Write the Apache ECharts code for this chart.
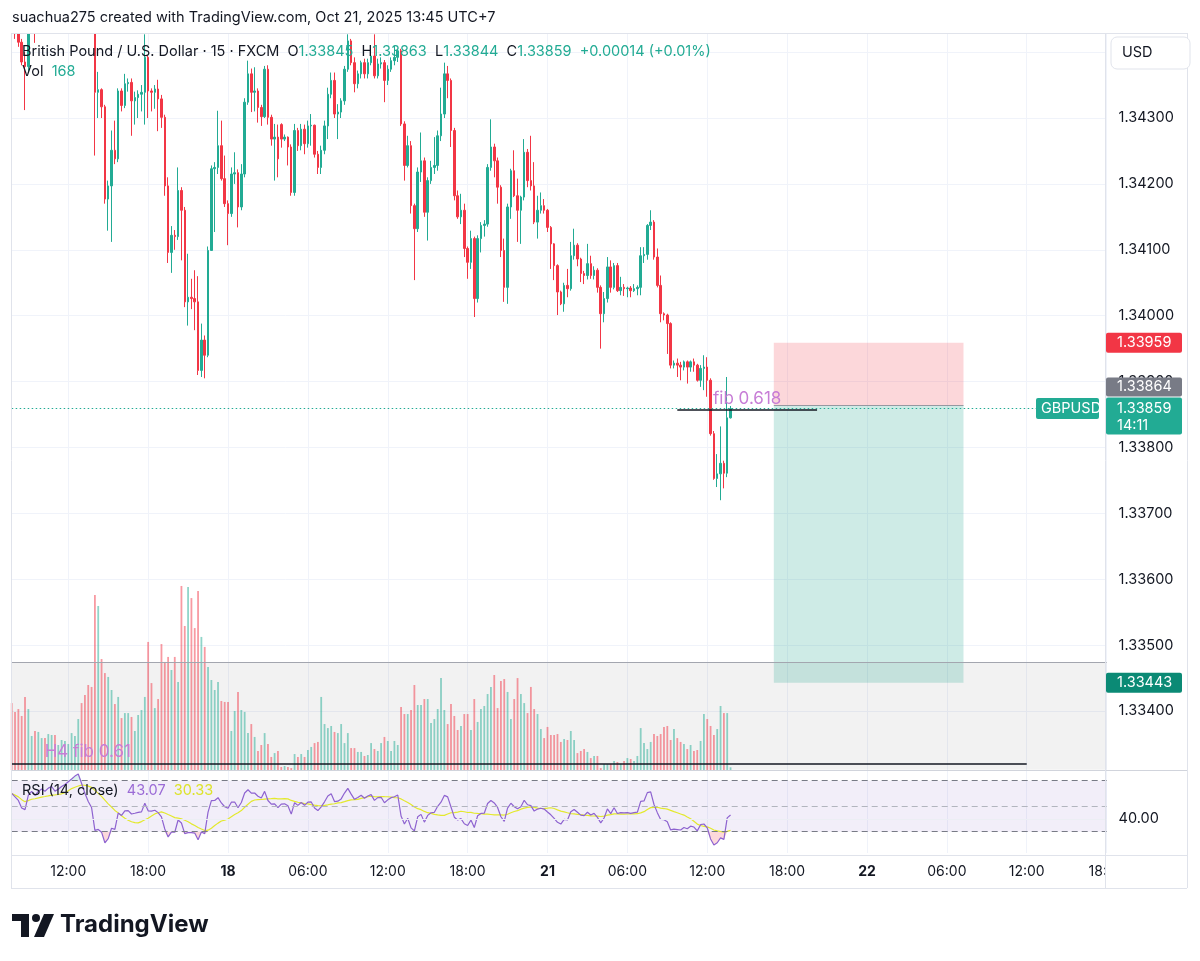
<!DOCTYPE html>
<html>
<head>
<meta charset="utf-8">
<title>GBPUSD 15</title>
<script src="https://cdn.jsdelivr.net/npm/echarts@6/dist/echarts.min.js"></script>
<style>
    html, body { margin: 0; padding: 0; background: #fff; }
    #main { width: 1200px; height: 961px; }
</style>
</head>
<body>
<div id="main"></div>
<script>
    // sessions of 15 min bars (UTC+7): Friday from 07:45 till the weekend close, Monday from 04:00
    var sessions = [['2025-10-17T07:45', 81], ['2025-10-20T04:00', 249]];

    // FX bars open at the previous close, except the first one and the Monday gap
    var firstOpen = 1.34452;
    var gapOpens = {81: 1.34290};

    var closes = [
        1.34440, 1.34428, 1.34415, 1.34385, 1.34378, 1.34445, 1.34468, 1.34452, 1.34475, 1.34490,
        1.34482, 1.34500, 1.34510, 1.34495, 1.34505, 1.34520, 1.34532, 1.34548, 1.34565, 1.34585,
        1.34600, 1.34575, 1.34545, 1.34515, 1.34490, 1.34339, 1.34343, 1.34317, 1.34177, 1.34197,
        1.34251, 1.34238, 1.34341, 1.34319, 1.34352, 1.34354, 1.34326, 1.34331, 1.34336, 1.34339,
        1.34392, 1.34341, 1.34339, 1.34344, 1.34329, 1.34301, 1.34197, 1.34096, 1.34122, 1.34120,
        1.34190, 1.34160, 1.34021, 1.34028, 1.34026, 1.34021, 1.33917, 1.33963, 1.33940, 1.34099,
        1.34223, 1.34225, 1.34258, 1.34208, 1.34170, 1.34155, 1.34215, 1.34217, 1.34165, 1.34215,
        1.34324, 1.34367, 1.34339, 1.34341, 1.34316, 1.34302, 1.34374, 1.34301, 1.34268, 1.34271,
        1.34238, 1.34268, 1.34271, 1.34256, 1.34187, 1.34281, 1.34258, 1.34283, 1.34261, 1.34288,
        1.34289, 1.34245, 1.34225, 1.34251, 1.34288, 1.34336, 1.34357, 1.34306, 1.34309, 1.34326,
        1.34374, 1.34417, 1.34384, 1.34352, 1.34367, 1.34384, 1.34367, 1.34384, 1.34394, 1.34364,
        1.34382, 1.34384, 1.34357, 1.34374, 1.34387, 1.34392, 1.34402, 1.34291, 1.34228, 1.34258,
        1.34167, 1.34132, 1.34218, 1.34235, 1.34157, 1.34205, 1.34225, 1.34228, 1.34273, 1.34306,
        1.34367, 1.34357, 1.34281, 1.34182, 1.34150, 1.34160, 1.34102, 1.34081, 1.34117, 1.34026,
        1.34117, 1.34137, 1.34139, 1.34225, 1.34256, 1.34235, 1.34195, 1.34099, 1.34043, 1.34165,
        1.34220, 1.34182, 1.34160, 1.34180, 1.34248, 1.34205, 1.34197, 1.34142, 1.34160, 1.34167,
        1.34160, 1.34134, 1.34109, 1.34076, 1.34036, 1.34018, 1.34046, 1.34041, 1.34091, 1.34107,
        1.34086, 1.34064, 1.34061, 1.34079, 1.34061, 1.34069, 1.34043, 1.34003, 1.34026, 1.34074,
        1.34043, 1.34076, 1.34038, 1.34043, 1.34041, 1.34042, 1.34038, 1.34041, 1.34043, 1.34091,
        1.34093, 1.34137, 1.34142, 1.34089, 1.34046, 1.34003, 1.34001, 1.33988, 1.33925, 1.33928,
        1.33925, 1.33922, 1.33930, 1.33922, 1.33930, 1.33925, 1.33902, 1.33920, 1.33922, 1.33902,
        1.33821, 1.33753, 1.33760, 1.33776, 1.33761, 1.33845, 1.33859
    ];

    var highs = [
        1.34460, 1.34450, 1.34432, 1.34420, 1.34400, 1.34460, 1.34480, 1.34485, 1.34490, 1.34505,
        1.34500, 1.34515, 1.34525, 1.34520, 1.34520, 1.34535, 1.34545, 1.34560, 1.34575, 1.34595,
        1.34615, 1.34605, 1.34580, 1.34550, 1.34520, 1.34495, 1.34370, 1.34345, 1.34320, 1.34205,
        1.34281, 1.34296, 1.34345, 1.34345, 1.34367, 1.34360, 1.34360, 1.34340, 1.34342, 1.34350,
        1.34427, 1.34395, 1.34345, 1.34350, 1.34358, 1.34335, 1.34305, 1.34210, 1.34136, 1.34130,
        1.34225, 1.34195, 1.34165, 1.34094, 1.34056, 1.34069, 1.34060, 1.33988, 1.33970, 1.34105,
        1.34228, 1.34233, 1.34311, 1.34296, 1.34243, 1.34175, 1.34225, 1.34248, 1.34222, 1.34230,
        1.34330, 1.34387, 1.34375, 1.34377, 1.34345, 1.34320, 1.34379, 1.34380, 1.34305, 1.34291,
        1.34290, 1.34292, 1.34275, 1.34272, 1.34260, 1.34291, 1.34285, 1.34291, 1.34290, 1.34296,
        1.34306, 1.34290, 1.34250, 1.34258, 1.34296, 1.34346, 1.34369, 1.34369, 1.34321, 1.34330,
        1.34379, 1.34427, 1.34420, 1.34392, 1.34372, 1.34387, 1.34390, 1.34390, 1.34402, 1.34427,
        1.34390, 1.34392, 1.34388, 1.34380, 1.34392, 1.34410, 1.34405, 1.34405, 1.34295, 1.34273,
        1.34265, 1.34170, 1.34225, 1.34278, 1.34240, 1.34210, 1.34235, 1.34271, 1.34281, 1.34346,
        1.34384, 1.34379, 1.34360, 1.34285, 1.34190, 1.34185, 1.34170, 1.34105, 1.34129, 1.34120,
        1.34122, 1.34142, 1.34145, 1.34230, 1.34298, 1.34261, 1.34240, 1.34198, 1.34117, 1.34170,
        1.34223, 1.34251, 1.34208, 1.34182, 1.34268, 1.34253, 1.34273, 1.34233, 1.34182, 1.34187,
        1.34177, 1.34162, 1.34136, 1.34110, 1.34078, 1.34038, 1.34050, 1.34071, 1.34112, 1.34132,
        1.34110, 1.34088, 1.34068, 1.34109, 1.34091, 1.34075, 1.34072, 1.34046, 1.34036, 1.34089,
        1.34084, 1.34080, 1.34080, 1.34059, 1.34048, 1.34044, 1.34045, 1.34048, 1.34046, 1.34104,
        1.34104, 1.34139, 1.34160, 1.34145, 1.34102, 1.34061, 1.34005, 1.34003, 1.33990, 1.33932,
        1.33935, 1.33930, 1.33932, 1.33932, 1.33932, 1.33935, 1.33927, 1.33925, 1.33940, 1.33937,
        1.33905, 1.33825, 1.33790, 1.33832, 1.33780, 1.33907, 1.33863
    ];

    var lows = [
        1.34430, 1.34420, 1.34408, 1.34380, 1.34312, 1.34370, 1.34440, 1.34414, 1.34445, 1.34465,
        1.34470, 1.34475, 1.34490, 1.34485, 1.34485, 1.34495, 1.34510, 1.34525, 1.34540, 1.34560,
        1.34580, 1.34560, 1.34530, 1.34500, 1.34475, 1.34243, 1.34300, 1.34300, 1.34170, 1.34129,
        1.34112, 1.34230, 1.34233, 1.34310, 1.34315, 1.34340, 1.34273, 1.34290, 1.34300, 1.34310,
        1.34290, 1.34300, 1.34310, 1.34314, 1.34280, 1.34285, 1.34182, 1.34080, 1.34065, 1.34100,
        1.34115, 1.34084, 1.34013, 1.33985, 1.34010, 1.33978, 1.33910, 1.33907, 1.33905, 1.33937,
        1.34099, 1.34127, 1.34215, 1.34205, 1.34165, 1.34107, 1.34150, 1.34200, 1.34134, 1.34160,
        1.34210, 1.34320, 1.34309, 1.34310, 1.34293, 1.34288, 1.34300, 1.34290, 1.34258, 1.34205,
        1.34210, 1.34255, 1.34265, 1.34228, 1.34182, 1.34182, 1.34250, 1.34251, 1.34245, 1.34255,
        1.34258, 1.34240, 1.34215, 1.34215, 1.34245, 1.34268, 1.34330, 1.34300, 1.34268, 1.34300,
        1.34320, 1.34370, 1.34380, 1.34339, 1.34345, 1.34360, 1.34360, 1.34360, 1.34380, 1.34360,
        1.34360, 1.34375, 1.34324, 1.34350, 1.34370, 1.34380, 1.34385, 1.34288, 1.34205, 1.34225,
        1.34155, 1.34054, 1.34127, 1.34203, 1.34150, 1.34114, 1.34200, 1.34215, 1.34220, 1.34265,
        1.34300, 1.34330, 1.34256, 1.34175, 1.34147, 1.34139, 1.34089, 1.34056, 1.34071, 1.33998,
        1.34020, 1.34096, 1.34120, 1.34135, 1.34220, 1.34210, 1.34170, 1.34089, 1.34021, 1.34018,
        1.34147, 1.34180, 1.34112, 1.34109, 1.34175, 1.34195, 1.34190, 1.34139, 1.34117, 1.34155,
        1.34155, 1.34127, 1.34071, 1.34054, 1.34001, 1.34016, 1.34006, 1.34028, 1.34038, 1.34085,
        1.34075, 1.34051, 1.34048, 1.34055, 1.34056, 1.34055, 1.34035, 1.33950, 1.33990, 1.34020,
        1.34035, 1.34040, 1.34036, 1.34031, 1.34030, 1.34028, 1.34028, 1.34036, 1.34031, 1.34031,
        1.34080, 1.34085, 1.34130, 1.34085, 1.34043, 1.33990, 1.33993, 1.33942, 1.33920, 1.33920,
        1.33907, 1.33902, 1.33917, 1.33897, 1.33915, 1.33915, 1.33900, 1.33892, 1.33887, 1.33877,
        1.33818, 1.33751, 1.33740, 1.33720, 1.33738, 1.33755, 1.33844
    ];

    var volumes = [
        4150, 3600, 3780, 3350, 4530, 3780, 2110, 2420, 2360, 1980,
        1980, 2230, 2170, 2170, 1550, 1860, 1800, 1610, 2290, 2110,
        3160, 4150, 4650, 5270, 5150, 10850, 10170, 6880, 6010, 5770,
        4960, 4090, 4530, 3220, 3530, 3530, 3290, 2420, 3410, 3720,
        4530, 7940, 5390, 3840, 4400, 7810, 6700, 7010, 6200, 7010,
        5460, 11410, 8930, 11350, 10660, 8800, 11100, 8250, 7630, 6390,
        5580, 4960, 5460, 4280, 4220, 4220, 2420, 3660, 4840, 3720,
        3600, 2290, 2850, 2050, 1180, 1550, 2290, 1610, 810, 1050,
        1180, 190, 250, 190, 120, 990, 810, 990, 810, 1240,
        1430, 1670, 1740, 4530, 2850, 2600, 2730, 2360, 2290, 2850,
        1670, 2290, 1360, 1360, 1120, 1120, 870, 930, 1670, 1300,
        1180, 1670, 2050, 1800, 1180, 1800, 1550, 3910, 3470, 3470,
        3720, 5270, 4030, 4030, 4400, 4400, 2910, 3160, 3780, 5700,
        3720, 2850, 4090, 3350, 2480, 2730, 3470, 3470, 2480, 4400,
        2980, 3780, 3970, 4710, 5150, 5890, 3840, 5520, 5640, 4840,
        3160, 4400, 5700, 4710, 4150, 3530, 5150, 3780, 3470, 2540,
        1980, 2670, 2170, 2170, 2230, 1740, 1920, 1860, 2420, 1860,
        1050, 1180, 1300, 1120, 740, 870, 870, 120, 370, 370,
        370, 560, 500, 370, 560, 740, 680, 560, 870, 2600,
        1670, 1300, 1740, 2230, 2110, 2230, 2670, 2730, 1860, 2540,
        1980, 1740, 1610, 1300, 1550, 1180, 1240, 1800, 3470, 3160,
        2730, 2170, 2540, 3970, 3530, 3530, 168
    ];

    // drawings on the chart
    var shortEntry = 1.33864, shortStop = 1.33959, shortTarget = 1.33443;
    var fibLevel = 1.33857;
    var h4Top = 1.33474, h4Line = 1.33320;
    var lastPrice = 1.33859;
    var rsiLen = 14;

    var FONT = 'Inter, "Noto Sans", sans-serif';
    var UP = '#22ab94', DOWN = '#f23645';

    function pad(n) { return (n < 10 ? '0' : '') + n; }

    var categories = [];
    sessions.forEach(function (s) {
        var t0 = Date.parse(s[0] + ':00Z');
        for (var i = 0; i < s[1]; i++) {
            var d = new Date(t0 + i * 900000);
            categories.push(pad(d.getUTCMonth() + 1) + '-' + pad(d.getUTCDate()) + ' ' +
                pad(d.getUTCHours()) + ':' + pad(d.getUTCMinutes()));
        }
    });

    var opens = closes.map(function (c, i) {
        if (i === 0) return firstOpen;
        return gapOpens[i] !== undefined ? gapOpens[i] : closes[i - 1];
    });

    var candles = closes.map(function (c, i) {
        var o = opens[i];
        return [o, c, Math.min(lows[i], o, c), Math.max(highs[i], o, c)];
    });

    var volData = volumes.map(function (v, i) {
        return { value: v, itemStyle: { color: closes[i] >= opens[i] ? 'rgba(34,171,148,0.5)' : 'rgba(242,54,69,0.5)' } };
    });

    // RSI (Wilder) from the closes, seeded with the level seen at the left edge
    var rsi = [];
    var avgUp = 0.00012, avgDn = 0.00008;
    for (var i = 0; i < closes.length; i++) {
        if (i > 0) {
            var ch = closes[i] - closes[i - 1];
            avgUp = (avgUp * (rsiLen - 1) + Math.max(ch, 0)) / rsiLen;
            avgDn = (avgDn * (rsiLen - 1) + Math.max(-ch, 0)) / rsiLen;
        }
        rsi.push(avgDn === 0 ? 100 : 100 - 100 / (1 + avgUp / avgDn));
    }
    var rsiMa = rsi.map(function (v, i) {
        var from = Math.max(0, i - rsiLen + 1), s = 0;
        for (var j = from; j <= i; j++) s += rsi[j];
        return s / (i - from + 1);
    });
    var rsiLow = rsi.map(function (v) { return Math.min(v, 30); });
    var rsiHigh = rsi.map(function (v) { return Math.max(v, 70); });

    function isMajor(idx, val) {
        var hm = val.slice(6);
        return hm === '00:00' || hm === '06:00' || hm === '12:00' || hm === '18:00';
    }
    function timeLabel(val) {
        var hm = val.slice(6);
        if (hm === '00:00') return '{d|' + (+val.slice(3, 5)) + '}';
        return hm;
    }

    var gridPos = { left: 11.7, width: 1094.9 };
    var vSplit = { show: true, interval: isMajor, lineStyle: { color: '#f0f3fa', width: 1 } };

    var myChart = echarts.init(document.getElementById('main'));

    var option = {
        animation: false,
        textStyle: { fontFamily: FONT },
        grid: [
            { left: gridPos.left, width: gridPos.width, top: 19.15, height: 757.85 },
            { left: gridPos.left, width: gridPos.width, top: 33, height: 737 },
            { left: gridPos.left, width: gridPos.width, top: 771, height: 82 }
        ],
        xAxis: [
            {
                gridIndex: 0, type: 'category', data: categories, boundaryGap: false,
                axisLine: { show: false }, axisTick: { show: false }, axisLabel: { show: false },
                splitLine: vSplit
            },
            {
                gridIndex: 1, type: 'category', data: categories, boundaryGap: false, show: false
            },
            {
                gridIndex: 2, type: 'category', data: categories, boundaryGap: false,
                axisLine: { show: false }, axisTick: { show: false },
                axisLabel: {
                    interval: isMajor, formatter: timeLabel,
                    color: '#131722', fontSize: 14, margin: 12, fontFamily: FONT,
                    rich: { d: { fontWeight: 'bold', fontSize: 14, color: '#131722', fontFamily: FONT } }
                },
                splitLine: vSplit
            }
        ],
        yAxis: [
            {
                gridIndex: 0, type: 'value', position: 'right', scale: true,
                min: 1.333, max: 1.3445, interval: 0.001,
                axisLine: { show: false }, axisTick: { show: false },
                axisLabel: {
                    color: '#131722', fontSize: 14.5, margin: 12, fontFamily: FONT,
                    showMinLabel: false, showMaxLabel: false,
                    formatter: function (v) { return Math.abs(v - 1.344) < 1e-7 ? '' : v.toFixed(5); }
                },
                splitLine: { lineStyle: { color: '#f0f3fa' }, showMinLine: false, showMaxLine: false }
            },
            { gridIndex: 1, type: 'value', min: 0, max: 45694, show: false },
            {
                gridIndex: 2, type: 'value', position: 'right', min: 13.3, max: 77.6,
                axisLine: { show: false }, axisTick: { show: false }, splitLine: { show: false },
                axisLabel: {
                    customValues: [40], color: '#131722', fontSize: 14.5, margin: 12, fontFamily: FONT,
                    formatter: function (v) { return v.toFixed(2); }
                }
            }
        ],
        series: [
            {
                name: 'GBPUSD', type: 'candlestick', xAxisIndex: 0, yAxisIndex: 0,
                data: candles, barWidth: 2, z: 4,
                itemStyle: { color: UP, color0: DOWN, borderColor: UP, borderColor0: DOWN, borderWidth: 1 },
                markArea: {
                    silent: true,
                    data: [
                        [{ coord: [categories[0], h4Top], itemStyle: { color: 'rgba(0,0,0,0.05)' } },
                         { coord: [categories[329], 1.33311] }],
                        [{ coord: [categories[229], shortStop], itemStyle: { color: 'rgba(242,54,69,0.2)' } },
                         { coord: [categories[286], shortEntry] }],
                        [{ coord: [categories[229], shortEntry], itemStyle: { color: 'rgba(8,153,129,0.2)' } },
                         { coord: [categories[286], shortTarget] }]
                    ]
                },
                markLine: {
                    silent: true, symbol: ['none', 'none'],
                    data: [
                        [{ coord: [categories[0], h4Top], lineStyle: { color: '#a3a6af', width: 1.2, type: 'solid' }, label: { show: false } },
                         { coord: [categories[329], h4Top] }],
                        [{ coord: [categories[0], h4Line], lineStyle: { color: '#131722', width: 1.5, type: 'solid' },
                           label: { show: true, position: 'insideStartTop', distance: [33, 3], formatter: 'H4 fib 0.61',
                                    color: '#c77dd6', fontSize: 17, fontFamily: FONT } },
                         { coord: [categories[305], h4Line] }],
                        [{ coord: [categories[200], fibLevel], lineStyle: { color: '#131722', width: 1.5, type: 'solid' },
                           label: { show: true, position: 'middle', distance: 3, formatter: 'fib 0.618',
                                    color: '#c77dd6', fontSize: 17, fontFamily: FONT } },
                         { coord: [categories[242], fibLevel] }],
                        [{ coord: [categories[229], shortEntry], lineStyle: { color: '#9598a1', width: 1, type: 'solid' }, label: { show: false } },
                         { coord: [categories[286], shortEntry] }],
                        [{ coord: [categories[0], lastPrice], lineStyle: { color: UP, width: 1, type: [1.5, 2.5] }, label: { show: false } },
                         { coord: [categories[308], lastPrice] }]
                    ]
                }
            },
            {
                name: 'Vol', type: 'bar', xAxisIndex: 1, yAxisIndex: 1,
                data: volData, barWidth: 1.8, z: 3
            },
            {
                name: 'RSI', type: 'line', xAxisIndex: 2, yAxisIndex: 2,
                data: rsi, symbol: 'none', z: 4,
                lineStyle: { color: '#8e63d0', width: 1.2 },
                markArea: {
                    silent: true,
                    data: [[{ yAxis: 30, itemStyle: { color: 'rgba(126,87,194,0.1)' } }, { yAxis: 70 }]]
                },
                markLine: {
                    silent: true, symbol: ['none', 'none'], label: { show: false },
                    data: [
                        { yAxis: 40, lineStyle: { color: '#eceef4', width: 1, type: 'solid' } },
                        { yAxis: 70, lineStyle: { color: '#787b86', width: 1, type: [6, 4] } },
                        { yAxis: 50, lineStyle: { color: '#b2b5be', width: 1, type: [6, 4] } },
                        { yAxis: 30, lineStyle: { color: '#787b86', width: 1, type: [6, 4] } }
                    ]
                }
            },
            {
                name: 'RSI-based MA', type: 'line', xAxisIndex: 2, yAxisIndex: 2,
                data: rsiMa, symbol: 'none', z: 3,
                lineStyle: { color: '#e3e92c', width: 1.2 }
            },
            {
                name: 'oversold', type: 'line', xAxisIndex: 2, yAxisIndex: 2,
                data: rsiLow, symbol: 'none', z: 2, silent: true,
                lineStyle: { width: 0 },
                areaStyle: { origin: 30, color: 'rgba(242,54,69,0.28)' }
            },
            {
                name: 'overbought', type: 'line', xAxisIndex: 2, yAxisIndex: 2,
                data: rsiHigh, symbol: 'none', z: 2, silent: true,
                lineStyle: { width: 0 },
                areaStyle: { origin: 70, color: 'rgba(34,171,148,0.22)' }
            }
        ]
    };

    myChart.setOption(option);

    // price tags and the legends, placed with the chart's own scale
    function py(p) { return myChart.convertToPixel({ yAxisIndex: 0 }, p); }

    function txt(x, y, text, color, size, extra) {
        var st = { x: x, y: y, text: text, fill: color, fontSize: size, fontFamily: FONT, align: 'left', verticalAlign: 'middle' };
        if (extra) for (var k in extra) st[k] = extra[k];
        return { type: 'text', z: 60, silent: true, style: st };
    }
    function box(x, y, w, h, color, r) {
        return { type: 'rect', z: 58, silent: true, shape: { x: x, y: y, width: w, height: h, r: r || 2 }, style: { fill: color } };
    }
    function hline(x1, x2, y, color) {
        return { type: 'line', z: 55, silent: true, shape: { x1: x1, y1: y, x2: x2, y2: y }, style: { stroke: color, lineWidth: 1 } };
    }
    function vline(x, y1, y2, color) {
        return { type: 'line', z: 55, silent: true, shape: { x1: x, y1: y1, x2: x, y2: y2 }, style: { stroke: color, lineWidth: 1 } };
    }

    var yStop = py(shortStop), yLast = py(lastPrice), yTarget = py(shortTarget);
    var frame = '#e0e3eb';
    var legendRich = {
        n: { fill: '#131722', fontSize: 14.5, fontFamily: FONT },
        g: { fill: UP, fontSize: 14.5, fontFamily: FONT },
        p: { fill: '#9b6bd6', fontSize: 14.5, fontFamily: FONT },
        y: { fill: '#dde32a', fontSize: 14.5, fontFamily: FONT }
    };

    var graphics = [
        // covers outside the panes
        { type: 'rect', z: 50, silent: true, shape: { x: 0, y: 0, width: 1200, height: 33 }, style: { fill: '#fff' } },
        { type: 'rect', z: 50, silent: true, shape: { x: 1105.5, y: 856, width: 95, height: 32 }, style: { fill: '#fff' } },
        // frame
        hline(11, 1187, 33.5, frame),
        hline(11, 1187, 770.5, '#d1d4dc'),
        hline(11, 1187, 855.5, frame),
        hline(11, 1187, 888.5, frame),
        vline(11.5, 33, 888, frame),
        vline(1105.5, 33, 888, frame),
        vline(1187.5, 33, 888, frame),

        txt(12, 18, 'suachua275 created with TradingView.com, Oct 21, 2025 13:45 UTC+7', '#131722', 14.5),
        txt(22, 52, '{n|British Pound / U.S. Dollar · 15 · FXCM  O}{g|1.33845}{n|  H}{g|1.33863}{n|  L}{g|1.33844}{n|  C}{g|1.33859}{g|  +0.00014 (+0.01%)}',
            '#131722', 14.5, { rich: legendRich }),
        txt(22, 72, '{n|Vol}{g|  168}', '#131722', 14.5, { rich: legendRich }),
        txt(22, 791, '{n|RSI (14, close)}{p|  43.07}{y|  30.33}', '#131722', 14.5, { rich: legendRich }),

        // USD button
        { type: 'rect', z: 58, silent: true, shape: { x: 1111, y: 37, width: 79, height: 32, r: 6 }, style: { fill: '#fff', stroke: frame, lineWidth: 1 } },
        txt(1122, 53, 'USD', '#131722', 14.5),

        // price tags
        box(1106, yStop - 10, 76, 20, '#f23645'),
        txt(1117, yStop, '1.33959', '#fff', 14.5),
        box(1106, yLast - 31, 76, 19, '#787b86'),
        txt(1117, yLast - 21.5, '1.33864', '#fff', 14.5),
        box(1106, yLast - 11, 76, 37, '#22ab94'),
        txt(1117, yLast, '1.33859', '#fff', 14.5),
        txt(1117, yLast + 17, '14:11', '#fff', 14.5),
        box(1036, yLast - 10.5, 63, 21, '#22ab94'),
        txt(1041, yLast, 'GBPUSD', '#fff', 14.5),
        box(1106, yTarget - 10, 76, 20, '#0b8a75'),
        txt(1117, yTarget, '1.33443', '#fff', 14.5),

        // TradingView logo
        { type: 'rect', z: 60, silent: true, shape: { x: 12, y: 914, width: 17, height: 7 }, style: { fill: '#131722' } },
        { type: 'rect', z: 60, silent: true, shape: { x: 21, y: 914, width: 8, height: 23 }, style: { fill: '#131722' } },
        { type: 'circle', z: 60, silent: true, shape: { cx: 36, cy: 918, r: 4 }, style: { fill: '#131722' } },
        { type: 'polygon', z: 60, silent: true, shape: { points: [[44, 914], [54, 914], [44, 937], [34, 937]] }, style: { fill: '#131722' } },
        txt(60, 925, 'TradingView', '#131722', 24, { fontWeight: 'bold' })
    ];

    myChart.setOption({ graphic: { elements: graphics } });
</script>
</body>
</html>
